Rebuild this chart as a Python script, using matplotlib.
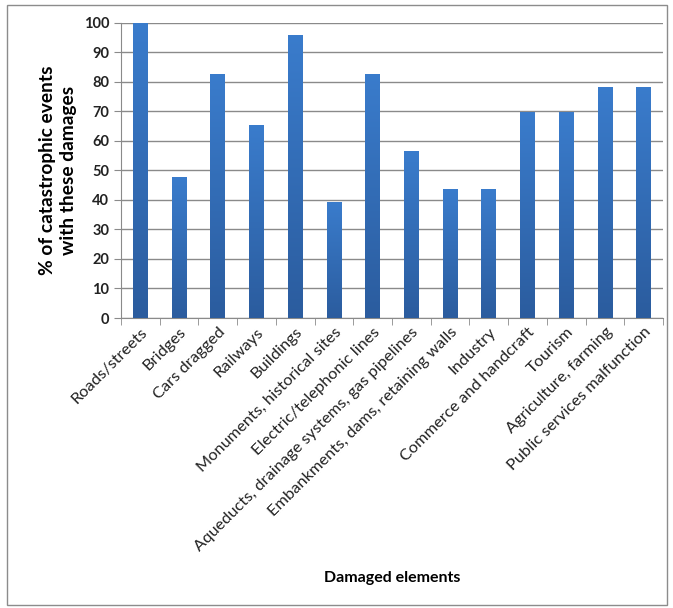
import numpy as np
import matplotlib.pyplot as plt
from matplotlib.colors import LinearSegmentedColormap
from matplotlib.patches import Rectangle

categories = ['Roads/streets', 'Bridges', 'Cars dragged', 'Railways', 'Buildings',
              'Monuments, historical sites', 'Electric/telephonic lines',
              'Aqueducts, drainage systems, gas pipelines',
              'Embankments, dams, retaining walls', 'Industry',
              'Commerce and handcraft', 'Tourism', 'Agriculture, farming',
              'Public services malfunction']
values = [100, 47.8, 82.6, 65.2, 95.7, 39.1, 82.6, 56.5, 43.5, 43.5,
          69.6, 69.6, 78.3, 78.3]

plt.rcParams['font.family'] = ['Lato', 'DejaVu Sans']

fig = plt.figure(figsize=(6.73, 6.08), dpi=100)
ax = fig.add_axes([121 / 673, 1 - 318 / 608, (663 - 121) / 673, (318 - 22.5) / 608])

# outer frame around the whole chart
fig.patches.append(Rectangle((7 / 673, 3 / 608), 660 / 673, 600 / 608,
                             transform=fig.transFigure, fill=False,
                             edgecolor='#8c8c8c', linewidth=1))

x = np.arange(len(categories))
bars = ax.bar(x, values, width=0.38, color='#3470bf', zorder=3)

# vertical gradient on each bar
cmap = LinearSegmentedColormap.from_list('bar', ['#2b5c9e', '#3a7ccc'])
grad = np.linspace(0, 1, 256).reshape(-1, 1)
for b in bars:
    x0, w, h = b.get_x(), b.get_width(), b.get_height()
    im = ax.imshow(grad, extent=[x0, x0 + w, 0, h], origin='lower',
                   cmap=cmap, aspect='auto', zorder=4)
    im.set_clip_path(b)

ax.set_xlim(-0.5, len(categories) - 0.5)
ax.set_ylim(0, 100)
ax.set_yticks(range(0, 101, 10))
ax.yaxis.grid(True, color='#8a8a8a', linewidth=1)
ax.set_axisbelow(True)

ax.set_xticks(x)
ax.set_xticklabels(categories, rotation=45, ha='right', rotation_mode='anchor',
                   fontsize=11.8, color='#222222')
ax.tick_params(axis='x', length=0, pad=5)
ax.set_xticks(np.arange(-0.5, len(categories), 1), minor=True)
ax.tick_params(axis='x', which='minor', length=5, color='#8a8a8a')
ax.tick_params(axis='y', length=5, color='#8a8a8a', labelsize=10.5)
for lbl in ax.get_yticklabels():
    lbl.set_fontweight('bold')
    lbl.set_color('#222222')

for s in ['top', 'right']:
    ax.spines[s].set_visible(False)
for s in ['left', 'bottom']:
    ax.spines[s].set_color('#8a8a8a')

ax.set_ylabel('% of catastrophic events\nwith these damages', fontsize=13.8,
              fontweight='bold', labelpad=5, linespacing=1.25)
fig.text(392 / 673, 1 - 578 / 608, 'Damaged elements', ha='center', va='center',
         fontsize=11.5, fontweight='bold')

fig.savefig('out.png', dpi=100)
